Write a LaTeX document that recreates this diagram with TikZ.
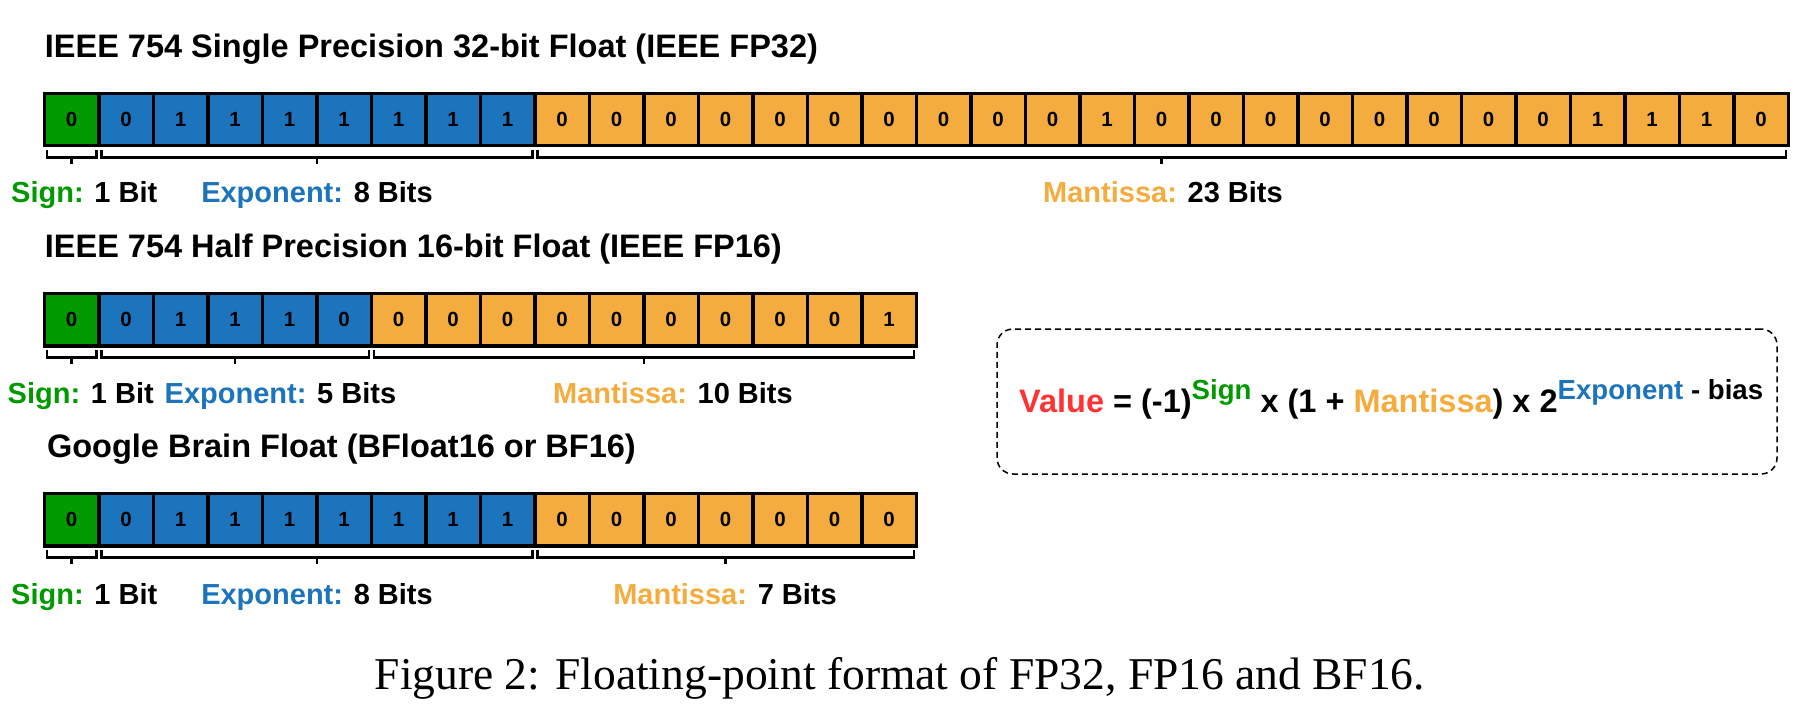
\documentclass[tikz,border=0pt]{standalone}
\usepackage{fontspec}
\setmainfont{Liberation Sans}
\newfontfamily\capfont{Liberation Serif}
\usetikzlibrary{calc}
\definecolor{sgngreen}{RGB}{0,153,0}
\definecolor{expblue}{RGB}{28,117,188}
\definecolor{manorange}{RGB}{245,172,63}
\definecolor{valred}{RGB}{255,51,51}
\tikzset{
  bitcell/.style={draw=black, line width=3.4pt, minimum width=54.5pt, minimum height=52.5pt,
    inner sep=0pt, outer sep=0pt, anchor=north west, font=\fontsize{20.5}{24}\selectfont\bfseries},
  brk/.style={line width=2.6pt, black},
  ttl/.style={anchor=base west, inner sep=0pt, font=\fontsize{32.5}{38}\selectfont\bfseries},
  lbl/.style={inner sep=0pt, font=\fontsize{29}{34}\selectfont\bfseries},
  fbox/.style={draw=black, line width=1.5pt, dash pattern=on 6pt off 4pt, rounded corners=16pt,
    minimum width=780pt, minimum height=145pt, anchor=north west, outer sep=0pt, inner sep=0pt},
}
\newcommand\bitrow[3]{%
  \foreach \s/\v [count=\i from 0] in {#3} {
    \node[bitcell, fill=\s] (#1\i) at ({44.3+54.5*\i},#2) {\v};
  }%
}
\newcommand\brkt[2]{%
  \draw[brk] ([xshift=2.5pt,yshift=-4.5pt]#1.south west) -- ++(0,-7) -| ([xshift=-2.5pt,yshift=-4.5pt]#2.south east);
  \draw[brk] ($(#1.south west)!0.5!(#2.south east)+(0,-11.5)$) -- ++(0,-7);
}
\newcommand\sups[1]{\raisebox{13.4pt}{\fontsize{27.6}{31}\selectfont #1}}
\begin{document}
\begin{tikzpicture}[x=1pt,y=1pt]
\useasboundingbox (0,0) rectangle (1812,-714);
% titles
\node[ttl] (t1) at (44.7,-57.3) {IEEE 754 Single Precision 32-bit Float (IEEE FP32)};
\node[ttl] (t2) at (44.7,-257.3) {IEEE 754 Half Precision 16-bit Float (IEEE FP16)};
\node[ttl] (t3) at (46.9,-457.3) {Google Brain Float (BFloat16 or BF16)};
% FP32
\bitrow{a}{-93.3}{sgngreen/0,expblue/0,expblue/1,expblue/1,expblue/1,expblue/1,expblue/1,expblue/1,expblue/1,
  manorange/0,manorange/0,manorange/0,manorange/0,manorange/0,manorange/0,manorange/0,manorange/0,manorange/0,manorange/0,
  manorange/1,manorange/0,manorange/0,manorange/0,manorange/0,manorange/0,manorange/0,manorange/0,manorange/0,
  manorange/1,manorange/1,manorange/1,manorange/0}
% FP16
\bitrow{b}{-293.3}{sgngreen/0,expblue/0,expblue/1,expblue/1,expblue/1,expblue/0,
  manorange/0,manorange/0,manorange/0,manorange/0,manorange/0,manorange/0,manorange/0,manorange/0,manorange/0,manorange/1}
% BF16
\bitrow{c}{-493.3}{sgngreen/0,expblue/0,expblue/1,expblue/1,expblue/1,expblue/1,expblue/1,expblue/1,expblue/1,
  manorange/0,manorange/0,manorange/0,manorange/0,manorange/0,manorange/0,manorange/0}
% brackets
\brkt{a0}{a0}\brkt{a1}{a8}\brkt{a9}{a31}
\brkt{b0}{b0}\brkt{b1}{b5}\brkt{b6}{b15}
\brkt{c0}{c0}\brkt{c1}{c8}\brkt{c9}{c15}
% labels
\node[lbl, anchor=base west] (s1) at (11,-203) {\textcolor{sgngreen}{Sign:} 1 Bit};
\node[lbl, anchor=base] (e1) at (317,-203) {\textcolor{expblue}{Exponent:} 8 Bits};
\node[lbl, anchor=base] (m1) at (1163,-203) {\textcolor{manorange}{Mantissa:} 23 Bits};
\node[lbl, anchor=base west] (s2) at (7.5,-403.5) {\textcolor{sgngreen}{Sign:} 1 Bit};
\node[lbl, anchor=base west] (e2) at (164.5,-403.5) {\textcolor{expblue}{Exponent:} 5 Bits};
\node[lbl, anchor=base west] (m2) at (553,-403.5) {\textcolor{manorange}{Mantissa:} 10 Bits};
\node[lbl, anchor=base west] (s3) at (11,-604) {\textcolor{sgngreen}{Sign:} 1 Bit};
\node[lbl, anchor=base] (e3) at (317,-604) {\textcolor{expblue}{Exponent:} 8 Bits};
\node[lbl, anchor=base] (m3) at (725,-604) {\textcolor{manorange}{Mantissa:} 7 Bits};
% formula box
\node[fbox] (box) at (997,-329) {};
\node[anchor=base west, inner sep=0pt, font=\fontsize{32.5}{38}\selectfont\bfseries] (val) at (1019,-412.7)
  {\textcolor{valred}{Value} = (-1)\sups{\textcolor{sgngreen}{Sign}} x (1 + \textcolor{manorange}{Mantissa}) x 2\sups{\textcolor{expblue}{Exponent} - bias}};
% caption
\node[anchor=base west, inner sep=0pt, font=\capfont\fontsize{45.5}{50}\selectfont] (cap) at (374.5,-689)
  {Figure 2: Floating-point format of FP32, FP16 and BF16.};
\end{tikzpicture}
\end{document}
